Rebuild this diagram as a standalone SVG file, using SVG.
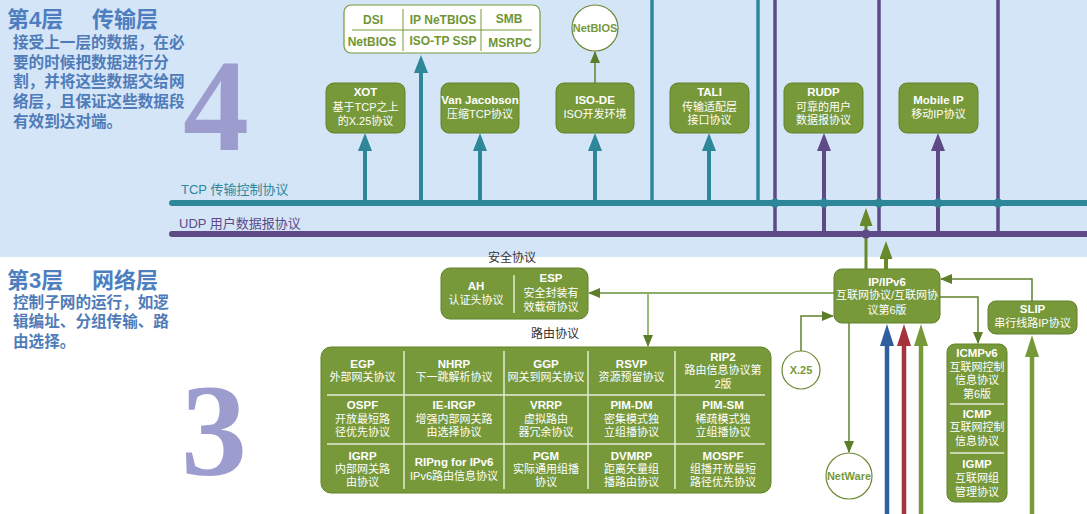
<svg xmlns="http://www.w3.org/2000/svg" width="1087" height="514" viewBox="0 0 1087 514">
<style>
.f{font-family:"Liberation Sans","Noto Sans CJK SC",sans-serif}
.box{fill:#77993a;stroke:#62822c;stroke-width:1}
.bt{font-family:"Liberation Sans","Noto Sans CJK SC",sans-serif;font-size:11px;fill:#fff;text-anchor:middle}
.bt .h{font-weight:bold;font-size:11.5px}
.circ{fill:#fff;stroke:#6b8a35;stroke-width:1.2}
.ct{font-family:"Liberation Sans","Noto Sans CJK SC",sans-serif;font-size:11px;font-weight:bold;fill:#77993a;text-anchor:middle}
.gt{font-family:"Liberation Sans","Noto Sans CJK SC",sans-serif;font-size:12px;font-weight:bold;fill:#6f9633;text-anchor:middle}
.div{stroke:#e4ecd6;stroke-width:1.5}
.title{font-family:"Liberation Sans","Noto Sans CJK SC",sans-serif;font-size:22px;font-weight:bold;fill:#4d7fc0}
.desc{font-family:"Liberation Sans","Noto Sans CJK SC",sans-serif;font-size:15.6px;font-weight:bold;fill:#4f7cb8}
.big{font-family:"Liberation Serif",serif;font-size:132px;font-weight:bold;fill:#9c9ccf;text-anchor:middle}
.lbl{font-family:"Liberation Sans","Noto Sans CJK SC",sans-serif;font-size:12px;fill:#333}
.teal{stroke:#2e8799;fill:none}
.purp{stroke:#5d4a87;fill:none}
.thin{stroke:#62822c;stroke-width:1.5;fill:none}
</style>
<defs>
<marker id="mTeal" markerUnits="userSpaceOnUse" markerWidth="18" markerHeight="14" refX="6" refY="7" orient="auto"><path d="M0,0 L18,7 L0,14z" fill="#2e8799"/></marker>
<marker id="mPurp" markerUnits="userSpaceOnUse" markerWidth="18" markerHeight="14" refX="6" refY="7" orient="auto"><path d="M0,0 L18,7 L0,14z" fill="#5d4a87"/></marker>
<marker id="mGreen" markerUnits="userSpaceOnUse" markerWidth="18" markerHeight="13" refX="6" refY="6.5" orient="auto"><path d="M0,0 L18,6.5 L0,13z" fill="#67892c"/></marker>
<marker id="mBlue" markerUnits="userSpaceOnUse" markerWidth="22" markerHeight="14" refX="8" refY="7" orient="auto"><path d="M0,0 L22,7 L0,14z" fill="#2f5f9e"/></marker>
<marker id="mRed" markerUnits="userSpaceOnUse" markerWidth="22" markerHeight="14" refX="8" refY="7" orient="auto"><path d="M0,0 L22,7 L0,14z" fill="#a5333b"/></marker>
<marker id="mLg" markerUnits="userSpaceOnUse" markerWidth="22" markerHeight="14" refX="8" refY="7" orient="auto"><path d="M0,0 L22,7 L0,14z" fill="#77993a"/></marker>
<marker id="mThin" markerUnits="userSpaceOnUse" markerWidth="12" markerHeight="10" refX="11" refY="5" orient="auto"><path d="M0,0 L12,5 L0,10z" fill="#5c7d2a"/></marker>
</defs>
<rect x="0" y="0" width="1087" height="257" fill="#d5e5f8"/>
<rect x="0" y="257" width="1087" height="257" fill="#ffffff"/>

<g id="layer4-text">
<text class="title" x="7" y="27">第4层<tspan x="92">传输层</tspan></text>
<text class="desc"><tspan x="13" y="48">接受上一层的数据，在必</tspan><tspan x="13" y="68">要的时候把数据进行分</tspan><tspan x="13" y="87">割，并将这些数据交给网</tspan><tspan x="13" y="107">络层，且保证这些数据段</tspan><tspan x="13" y="127">有效到达对端。</tspan></text>
<text class="big" x="216" y="150">4</text>
</g>
<g id="layer3-text">
<text class="title" x="7" y="288">第3层<tspan x="92">网络层</tspan></text>
<text class="desc"><tspan x="13" y="308">控制子网的运行，如逻</tspan><tspan x="13" y="327">辑编址、分组传输、路</tspan><tspan x="13" y="347">由选择。</tspan></text>
<text class="big" x="214" y="475">3</text>
</g>

<g id="connectors">
<line class="teal" x1="652" y1="0" x2="652" y2="203" stroke-width="3.5"/>
<line class="teal" x1="758" y1="0" x2="758" y2="203" stroke-width="3.5"/>
<line class="purp" x1="775" y1="0" x2="775" y2="234" stroke-width="3.5"/>
<line class="purp" x1="879" y1="0" x2="879" y2="234" stroke-width="3.5"/>
<line class="purp" x1="998" y1="0" x2="998" y2="234" stroke-width="3.5"/>
<line class="teal" x1="365" y1="203" x2="365" y2="145" stroke-width="4" marker-end="url(#mTeal)"/>
<line class="teal" x1="421" y1="203" x2="421" y2="67" stroke-width="4" marker-end="url(#mTeal)"/>
<line class="teal" x1="480" y1="203" x2="480" y2="145" stroke-width="4" marker-end="url(#mTeal)"/>
<line class="teal" x1="595" y1="203" x2="595" y2="145" stroke-width="4" marker-end="url(#mTeal)"/>
<line class="teal" x1="709" y1="203" x2="709" y2="145" stroke-width="4" marker-end="url(#mTeal)"/>
<line class="purp" x1="824" y1="234" x2="824" y2="145" stroke-width="4" marker-end="url(#mPurp)"/>
<line class="purp" x1="938" y1="234" x2="938" y2="145" stroke-width="4" marker-end="url(#mPurp)"/>
<line x1="866" y1="269" x2="866" y2="220" stroke="#67892c" stroke-width="3" marker-end="url(#mGreen)"/>
<line x1="886" y1="269" x2="886" y2="253" stroke="#67892c" stroke-width="4" marker-end="url(#mGreen)"/>
<line x1="172" y1="203" x2="1087" y2="203" stroke="#2e8799" stroke-width="6" stroke-linecap="round"/>
<line x1="172" y1="234" x2="1087" y2="234" stroke="#5d4a87" stroke-width="6" stroke-linecap="round"/>
<g fill="#2e8799">
<circle cx="775" cy="203" r="4.5"/><circle cx="824" cy="203" r="4.5"/><circle cx="879" cy="203" r="4.5"/><circle cx="938" cy="203" r="4.5"/><circle cx="998" cy="203" r="4.5"/>
</g>
<circle cx="866" cy="234" r="4.5" fill="#5d4a87"/>
<text class="f" x="181" y="194" font-size="13" fill="#2e8799">TCP 传输控制协议</text>
<text class="f" x="179" y="228" font-size="13" fill="#5d4a87">UDP 用户数据报协议</text>
<line class="thin" x1="595" y1="83" x2="595" y2="52" marker-end="url(#mThin)"/>
<line x1="834" y1="293" x2="589" y2="293" stroke="#8fab6a" stroke-width="2" marker-end="url(#mThin)"/>
<line x1="648" y1="293" x2="648" y2="346" stroke="#9fb877" stroke-width="2" marker-end="url(#mThin)"/>
<path class="thin" d="M801,351 V316 H833" marker-end="url(#mThin)"/>
<line class="thin" x1="849" y1="323" x2="849" y2="452" marker-end="url(#mThin)"/>
<path class="thin" d="M940,297 H978 V343" marker-end="url(#mThin)"/>
<path class="thin" d="M1032,301 V279 H941" marker-end="url(#mThin)"/>
<line x1="887" y1="514" x2="887" y2="338" stroke="#2f5f9e" stroke-width="4.5" marker-end="url(#mBlue)"/>
<line x1="904" y1="514" x2="904" y2="338" stroke="#a5333b" stroke-width="4.5" marker-end="url(#mRed)"/>
<line x1="921" y1="514" x2="921" y2="338" stroke="#77993a" stroke-width="4.5" marker-end="url(#mLg)"/>
<line x1="1032" y1="514" x2="1032" y2="349" stroke="#77993a" stroke-width="4.5" marker-end="url(#mLg)"/>
</g>

<g id="n-session">
<rect x="344" y="5" width="196" height="48" rx="7" fill="#fff" stroke="#77993a" stroke-width="1.2"/>
<line x1="352" y1="30" x2="532" y2="30" stroke="#77993a" stroke-width="1"/>
<line x1="403" y1="9" x2="403" y2="51" stroke="#77993a" stroke-width="1"/>
<line x1="481" y1="9" x2="481" y2="51" stroke="#77993a" stroke-width="1"/>
<text class="gt" x="373" y="24">DSI</text>
<text class="gt" x="443" y="24">IP NeTBIOS</text>
<text class="gt" x="509" y="23">SMB</text>
<text class="gt" x="372" y="46">NetBIOS</text>
<text class="gt" x="443" y="45">ISO-TP SSP</text>
<text class="gt" x="510" y="47">MSRPC</text>
</g>
<g id="n-netbios"><circle class="circ" cx="595" cy="28" r="23"/><text class="ct" x="595" y="32">NetBIOS</text></g>
<g id="n-xot"><rect class="box" x="326" y="83" width="79" height="50" rx="8"/><text class="bt"><tspan class="h" x="365.5" y="96">XOT</tspan><tspan x="365.5" y="111">基于TCP之上</tspan><tspan x="365.5" y="125">的X.25协议</tspan></text></g>
<g id="n-vanj"><rect class="box" x="441" y="83" width="78" height="50" rx="8"/><text class="bt"><tspan class="h" x="480" y="104">Van Jacobson</tspan><tspan x="480" y="118">压缩TCP协议</tspan></text></g>
<g id="n-isode"><rect class="box" x="556" y="83" width="78" height="50" rx="8"/><text class="bt"><tspan class="h" x="595" y="104">ISO-DE</tspan><tspan x="595" y="118">ISO开发环境</tspan></text></g>
<g id="n-tali"><rect class="box" x="670" y="83" width="79" height="50" rx="8"/><text class="bt"><tspan class="h" x="709.5" y="96">TALI</tspan><tspan x="709.5" y="111">传输适配层</tspan><tspan x="709.5" y="124">接口协议</tspan></text></g>
<g id="n-rudp"><rect class="box" x="784" y="83" width="79" height="50" rx="8"/><text class="bt"><tspan class="h" x="823.5" y="96">RUDP</tspan><tspan x="823.5" y="111">可靠的用户</tspan><tspan x="823.5" y="124">数据报协议</tspan></text></g>
<g id="n-mobileip"><rect class="box" x="899" y="83" width="79" height="50" rx="8"/><text class="bt"><tspan class="h" x="938.5" y="104">Mobile IP</tspan><tspan x="938.5" y="118">移动IP协议</tspan></text></g>

<g id="n-security">
<text class="lbl" x="512" y="262" text-anchor="middle">安全协议</text>
<rect class="box" x="441" y="268" width="147" height="51" rx="9"/>
<line class="div" x1="514" y1="275" x2="514" y2="313"/>
<text class="bt"><tspan class="h" x="476" y="290">AH</tspan><tspan x="476" y="304">认证头协议</tspan></text>
<text class="bt"><tspan class="h" x="551" y="282">ESP</tspan><tspan x="551" y="297">安全封装有</tspan><tspan x="551" y="311">效载荷协议</tspan></text>
</g>

<g id="n-routing">
<text class="lbl" x="555" y="338" text-anchor="middle">路由协议</text>
<rect class="box" x="321" y="347" width="450" height="146" rx="10"/>
<line class="div" x1="327" y1="395" x2="765" y2="395"/>
<line class="div" x1="327" y1="444" x2="765" y2="444"/>
<line class="div" x1="404" y1="351" x2="404" y2="489"/>
<line class="div" x1="504" y1="351" x2="504" y2="489"/>
<line class="div" x1="588" y1="351" x2="588" y2="489"/>
<line class="div" x1="675" y1="351" x2="675" y2="489"/>
<text class="bt"><tspan class="h" x="362.5" y="368">EGP</tspan><tspan x="362.5" y="381">外部网关协议</tspan></text>
<text class="bt"><tspan class="h" x="454" y="368">NHRP</tspan><tspan x="454" y="381">下一跳解析协议</tspan></text>
<text class="bt"><tspan class="h" x="546" y="368">GGP</tspan><tspan x="546" y="381">网关到网关协议</tspan></text>
<text class="bt"><tspan class="h" x="631.5" y="368">RSVP</tspan><tspan x="631.5" y="381">资源预留协议</tspan></text>
<text class="bt"><tspan class="h" x="723" y="361">RIP2</tspan><tspan x="723" y="374">路由信息协议第</tspan><tspan x="723" y="388">2版</tspan></text>
<text class="bt"><tspan class="h" x="362.5" y="409">OSPF</tspan><tspan x="362.5" y="423">开放最短路</tspan><tspan x="362.5" y="436">径优先协议</tspan></text>
<text class="bt"><tspan class="h" x="454" y="409">IE-IRGP</tspan><tspan x="454" y="423">增强内部网关路</tspan><tspan x="454" y="436">由选择协议</tspan></text>
<text class="bt"><tspan class="h" x="546" y="409">VRRP</tspan><tspan x="546" y="423">虚拟路由</tspan><tspan x="546" y="436">器冗余协议</tspan></text>
<text class="bt"><tspan class="h" x="631.5" y="409">PIM-DM</tspan><tspan x="631.5" y="423">密集模式独</tspan><tspan x="631.5" y="436">立组播协议</tspan></text>
<text class="bt"><tspan class="h" x="723" y="409">PIM-SM</tspan><tspan x="723" y="423">稀疏模式独</tspan><tspan x="723" y="436">立组播协议</tspan></text>
<text class="bt"><tspan class="h" x="362.5" y="460">IGRP</tspan><tspan x="362.5" y="473">内部网关路</tspan><tspan x="362.5" y="486">由协议</tspan></text>
<text class="bt"><tspan class="h" x="454" y="466">RIPng for IPv6</tspan><tspan x="454" y="480">IPv6路由信息协议</tspan></text>
<text class="bt"><tspan class="h" x="546" y="460">PGM</tspan><tspan x="546" y="473">实际通用组播</tspan><tspan x="546" y="486">协议</tspan></text>
<text class="bt"><tspan class="h" x="631.5" y="460">DVMRP</tspan><tspan x="631.5" y="473">距离矢量组</tspan><tspan x="631.5" y="486">播路由协议</tspan></text>
<text class="bt"><tspan class="h" x="723" y="460">MOSPF</tspan><tspan x="723" y="473">组播开放最短</tspan><tspan x="723" y="486">路径优先协议</tspan></text>
</g>

<g id="n-ip"><rect class="box" x="834" y="269" width="106" height="54" rx="8"/><text class="bt"><tspan class="h" x="887" y="286">IP/IPv6</tspan><tspan x="887" y="299">互联网协议/互联网协</tspan><tspan x="887" y="314">议第6版</tspan></text></g>
<g id="n-x25"><circle class="circ" cx="801" cy="370" r="19"/><text class="ct" x="801" y="374">X.25</text></g>
<g id="n-netware"><circle class="circ" cx="849" cy="476" r="23"/><text class="ct" x="849" y="480">NetWare</text></g>
<g id="n-slip"><rect class="box" x="988" y="301" width="89" height="33" rx="8"/><text class="bt"><tspan class="h" x="1032.5" y="313">SLIP</tspan><tspan x="1032.5" y="327">串行线路IP协议</tspan></text></g>
<g id="n-icmp">
<rect class="box" x="947" y="344" width="60" height="158" rx="8"/>
<line class="div" x1="950" y1="404" x2="1004" y2="404"/>
<line class="div" x1="950" y1="453" x2="1004" y2="453"/>
<text class="bt"><tspan class="h" x="977" y="357">ICMPv6</tspan><tspan x="977" y="371">互联网控制</tspan><tspan x="977" y="384">信息协议</tspan><tspan x="977" y="398">第6版</tspan></text>
<text class="bt"><tspan class="h" x="977" y="418">ICMP</tspan><tspan x="977" y="431">互联网控制</tspan><tspan x="977" y="445">信息协议</tspan></text>
<text class="bt"><tspan class="h" x="977" y="468">IGMP</tspan><tspan x="977" y="482">互联网组</tspan><tspan x="977" y="496">管理协议</tspan></text>
</g>
</svg>
